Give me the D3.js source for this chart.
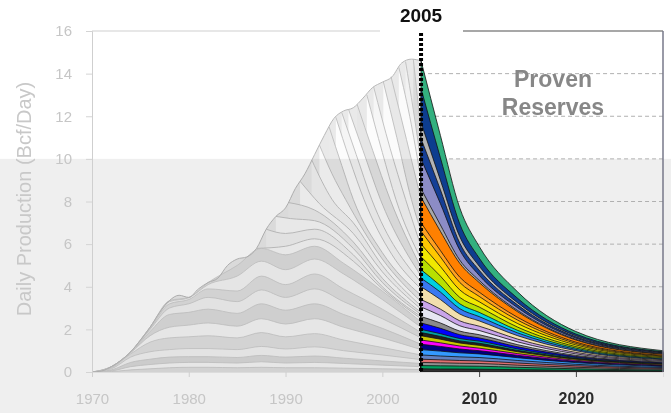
<!DOCTYPE html>
<html>
<head>
<meta charset="utf-8">
<script src="https://cdn.jsdelivr.net/npm/d3@7"></script>
<style>
  body { margin: 0; background: #fff; }
  svg { display: block; font-family: Arial, "Liberation Sans", sans-serif; }
</style>
</head>
<body>
<svg width="671" height="413"></svg>
<script>
const svg = d3.select("svg");
const width = +svg.attr("width");
const height = +svg.attr("height");

// ---- data ----
const histYears = [1970, 1971, 1972, 1973, 1974, 1975, 1976, 1977, 1978, 1979,
  1980, 1981, 1982, 1983, 1984, 1985, 1986, 1987, 1988, 1989,
  1990, 1991, 1992, 1993, 1994, 1995, 1996, 1997, 1998, 1999,
  2000, 2001, 2002, 2003, 2004];
const histTotal = [0, 0.05, 0.25, 0.55, 0.95, 1.5, 2.1, 2.8, 3.35, 3.6,
  3.5, 3.9, 4.2, 4.4, 5.0, 5.3, 5.4, 5.8, 6.7, 7.3,
  7.7, 8.6, 9.3, 10.2, 11.1, 11.9, 12.25, 12.4, 12.85, 13.35,
  13.6, 13.85, 14.5, 14.68, 14.6];

// old field groups (wavy bands), top to bottom
const waveYears = [1970, 1972, 1974, 1976, 1978, 1980, 1982, 1985, 1987.5, 1990, 1993, 1996, 2000, 2004];
const wave11 = [0, 0.25, 0.95, 2.1, 3.35, 3.5, 4.2, 5.0, 5.8, 5.5, 5.9, 5.1, 3.8, 2.35];
const wave10 = [0, 0.25, 0.95, 2.1, 3.3, 3.48, 4.1, 4.5, 5.2, 4.8, 5.3, 4.6, 3.4, 2.1];
const wave09 = [0, 0.25, 0.95, 2.05, 3.2, 3.4, 3.9, 3.8, 4.5, 4.1, 4.6, 3.9, 2.95, 1.85];
const wave08 = [0, 0.25, 0.94, 2.0, 3.0, 3.2, 3.5, 3.3, 3.85, 3.5, 3.9, 3.3, 2.5, 1.6];
const wave07 = [0, 0.24, 0.92, 1.9, 2.7, 2.8, 2.95, 2.75, 3.2, 2.9, 3.2, 2.7, 2.05, 1.3];
const wave06 = [0, 0.22, 0.9, 1.7, 2.1, 2.2, 2.3, 2.15, 2.5, 2.25, 2.5, 2.1, 1.6, 1.05];
const wave05 = [0, 0.2, 0.85, 1.4, 1.6, 1.65, 1.7, 1.6, 1.85, 1.65, 1.8, 1.5, 1.15, 0.8];
const wave04 = [0, 0.15, 0.7, 0.95, 1.05, 1.1, 1.1, 1.05, 1.2, 1.08, 1.18, 1.0, 0.8, 0.58];
const wave03 = [0, 0.1, 0.45, 0.6, 0.7, 0.72, 0.72, 0.68, 0.78, 0.7, 0.75, 0.65, 0.52, 0.4];
const wave02 = [0, 0.05, 0.25, 0.35, 0.42, 0.45, 0.45, 0.42, 0.48, 0.42, 0.45, 0.4, 0.32, 0.25];
const wave01 = [0, 0.02, 0.1, 0.15, 0.2, 0.22, 0.22, 0.2, 0.22, 0.2, 0.2, 0.18, 0.15, 0.12];
const waveFills = ["#dedede", "#f5f5f5", "#e0e0e0", "#f2f2f2", "#dddddd", "#f6f6f6",
  "#e2e2e2", "#f3f3f3", "#dadada", "#f6f6f6", "#e0e0e0"];

// newer vintages peeling off the total, newest first
const vintageLines = [
  [[2003.2, 14.68], [2003.6, 13.0], [2004, 11.2]],
  [[2002.4, 14.56], [2003.2, 12.3], [2004, 9.8]],
  [[2001.7, 14.3], [2003, 11.6], [2004, 9.0]],
  [[2000.9, 13.85], [2002.5, 10.9], [2004, 8.1]],
  [[2000.1, 13.62], [2001.5, 11.0], [2003, 8.1], [2004, 6.6]],
  [[1999.1, 13.38], [2000.8, 10.5], [2002.4, 8.1], [2004, 5.9]],
  [[1998.4, 13.0], [2000, 10.3], [2001.4, 8.1], [2004, 5.3]],
  [[1997.4, 12.55], [1999, 10.4], [2000.8, 8.1], [2004, 4.9]],
  [[1996.5, 12.33], [1998, 10.4], [1999.8, 8.1], [2004, 4.5]],
  [[1995.8, 12.18], [1997.3, 10.2], [1998.9, 8.1], [2004, 4.2]],
  [[1995.2, 11.95], [1996.6, 10.0], [1998.1, 8.1], [2001, 5.5], [2004, 3.9]],
  [[1994.5, 11.5], [1995.8, 9.7], [1997.0, 8.1], [2000, 5.6], [2004, 3.6]],
  [[1993.5, 10.65], [1994.8, 9.3], [1996.2, 8.1], [2000, 5.3], [2004, 3.3]],
  [[1992.7, 9.95], [1994.8, 8.1], [1997, 7.0], [2000, 5.0], [2004, 3.1]],
  [[1991.5, 8.95], [1993.5, 7.9], [1997, 6.5], [2000, 4.7], [2004, 2.95]],
  [[1990.3, 7.95], [1993, 7.6], [1997, 6.1], [2000, 4.4], [2004, 2.8]],
  [[1989, 7.3], [1990.5, 7.2], [1993, 7.1], [1997, 5.8], [2000, 4.2], [2004, 2.7]],
  [[1988, 6.7], [1990, 6.5], [1993, 6.7], [1997, 5.5], [2000, 4.0], [2004, 2.6]],
  [[1987, 5.8], [1990, 5.9], [1993, 6.25], [1997, 5.2], [2000, 3.9], [2004, 2.5]]
];
const vintageFills = ["#d9d9d9", "#f2f2f2", "#fbfbfb", "#e8e8e8", "#fbfbfb", "#f6f6f6",
  "#fcfcfc", "#e6e6e6", "#fbfbfb", "#f5f5f5", "#fcfcfc", "#eaeaea", "#fbfbfb",
  "#f4f4f4", "#fafafa", "#ececec", "#f8f8f8", "#f1f1f1", "#f7f7f7"];
const totalFill = "#e9e9e9";

// proven reserves: layer tops (top to bottom) at each year
const reserveYears = [2004, 2006, 2008, 2010, 2014, 2020, 2029];
const reserve2004 = [14.6, 13.3, 11.7, 10.95, 10.0, 8.6, 8.2, 7.0, 6.6, 6.0, 5.4, 4.8, 4.4, 4.0, 3.4, 3.05, 2.6, 2.3, 2.0, 1.85, 1.7, 1.5, 1.3, 1.05, 0.8, 0.6, 0.45, 0.3, 0.15, 0];
const reserve2006 = [11.1, 10.05, 9.0, 8.55, 7.9, 6.9, 6.6, 5.7, 5.4, 4.95, 4.5, 4.05, 3.75, 3.4, 2.95, 2.65, 2.3, 2.05, 1.8, 1.67, 1.54, 1.37, 1.2, 0.98, 0.75, 0.57, 0.43, 0.29, 0.14, 0];
const reserve2008 = [7.7, 6.95, 6.35, 6.05, 5.72, 5.25, 5.1, 4.45, 4.2, 3.85, 3.5, 3.2, 2.97, 2.72, 2.4, 2.17, 1.92, 1.75, 1.57, 1.46, 1.36, 1.22, 1.08, 0.9, 0.71, 0.54, 0.41, 0.28, 0.14, 0];
const reserve2010 = [5.9, 5.35, 4.97, 4.78, 4.54, 4.3, 4.2, 3.75, 3.55, 3.3, 3.05, 2.8, 2.6, 2.4, 2.15, 1.95, 1.75, 1.6, 1.45, 1.35, 1.25, 1.12, 1.0, 0.85, 0.68, 0.52, 0.4, 0.27, 0.13, 0];
const reserve2014 = [3.75, 3.45, 3.24, 3.14, 3.01, 2.88, 2.82, 2.56, 2.43, 2.27, 2.1, 1.95, 1.83, 1.7, 1.54, 1.41, 1.28, 1.18, 1.08, 1.01, 0.95, 0.86, 0.78, 0.67, 0.54, 0.42, 0.32, 0.22, 0.11, 0];
const reserve2020 = [1.9, 1.78, 1.7, 1.65, 1.59, 1.53, 1.5, 1.4, 1.34, 1.27, 1.19, 1.12, 1.06, 1.0, 0.92, 0.85, 0.78, 0.73, 0.68, 0.64, 0.6, 0.55, 0.5, 0.44, 0.36, 0.29, 0.22, 0.15, 0.08, 0];
const reserve2029 = [1.0, 0.95, 0.92, 0.9, 0.87, 0.84, 0.83, 0.78, 0.75, 0.72, 0.68, 0.64, 0.61, 0.58, 0.54, 0.5, 0.46, 0.43, 0.4, 0.38, 0.36, 0.33, 0.3, 0.26, 0.21, 0.17, 0.13, 0.09, 0.05, 0];
const reserveColors = ["#33b07f", "#0d3d8f", "#b4b4b4", "#153f96", "#8c8cc6", "#a8a8a8",
  "#ff8000", "#ffa020", "#ffc800", "#f0e800", "#b8e000", "#00d0e0", "#3a78f0",
  "#f2dfae", "#c9a4ea", "#e6e6f2", "#8a8a8a", "#0000ff", "#00a0a0", "#202020",
  "#c8c800", "#ff00ff", "#000080", "#3399ff", "#6080c0", "#e07070", "#909090",
  "#00a060", "#303030"];

const splitYear = 2004;
const yTicks = [0, 2, 4, 6, 8, 10, 12, 14, 16];
const xTicks = [1970, 1980, 1990, 2000, 2010, 2020];
const gridValues = [2, 4, 6, 8, 10, 12, 14];

// ---- scales ----
const x = d3.scaleLinear().domain([1970, 2029]).range([92, 663]);
const y = d3.scaleLinear().domain([0, 16]).range([372, 31]);

// grey lower background
svg.append("rect")
  .attr("x", 0).attr("y", y(10))
  .attr("width", width).attr("height", height - y(10))
  .attr("fill", "#efefef");

// dashed grid in the reserves part
svg.append("g").selectAll("line")
  .data(gridValues)
  .join("line")
  .attr("x1", x(splitYear)).attr("x2", x(2029))
  .attr("y1", d => y(d)).attr("y2", d => y(d))
  .attr("stroke", "#b0b0b0")
  .attr("stroke-dasharray", "4,3");

// ---- history (grey) ----
const hist = svg.append("g").style("mix-blend-mode", "multiply");
const area = d3.area()
  .x(d => x(d[0]))
  .y0(y(0))
  .y1(d => y(d[1]))
  .curve(d3.curveMonotoneX);
const line = d3.line()
  .x(d => x(d[0]))
  .y(d => y(d[1]))
  .curve(d3.curveMonotoneX);

const totalPts = histYears.map((yr, i) => [yr, histTotal[i]]);
hist.append("path").attr("d", area(totalPts)).attr("fill", totalFill);

vintageLines.forEach((pts, i) => {
  hist.append("path").attr("d", area(pts)).attr("fill", vintageFills[i]);
  hist.append("path").attr("d", line(pts))
    .attr("fill", "none").attr("stroke", "#bdbdbd").attr("stroke-width", 0.9);
});

const waves = [wave11, wave10, wave09, wave08, wave07, wave06, wave05, wave04, wave03, wave02, wave01];
waves.forEach((vals, i) => {
  const pts = waveYears.map((yr, j) => [yr, vals[j]]);
  hist.append("path").attr("d", area(pts)).attr("fill", waveFills[i]);
  hist.append("path").attr("d", line(pts))
    .attr("fill", "none").attr("stroke", "#c8c8c8").attr("stroke-width", 0.8);
});

hist.append("path").attr("d", line(totalPts))
  .attr("fill", "none").attr("stroke", "#b8b8b8").attr("stroke-width", 1);

// ---- proven reserves (colored) ----
const reserveRows = [reserve2004, reserve2006, reserve2008, reserve2010, reserve2014, reserve2020, reserve2029];
const res = svg.append("g");
reserveColors.forEach((color, i) => {
  const pts = reserveYears.map((yr, j) => [yr, reserveRows[j][i]]);
  res.append("path")
    .attr("d", area(pts))
    .attr("fill", color)
    .attr("stroke", "#111")
    .attr("stroke-width", 0.8);
});

// ---- axes ----
const yAxis = svg.append("g")
  .attr("transform", `translate(${x(1970)},0)`)
  .call(d3.axisLeft(y).tickValues(yTicks).tickSize(6).tickPadding(14));
yAxis.select(".domain").attr("stroke", "#cfcfcf");
yAxis.selectAll(".tick line").attr("stroke", "#d4d4d4");
yAxis.selectAll(".tick text")
  .attr("fill", "#c6c6c6")
  .attr("font-size", 15)
  .attr("font-family", "Arial, 'Liberation Sans', sans-serif");

const xAxis = svg.append("g")
  .attr("transform", `translate(0,${y(0)})`)
  .call(d3.axisBottom(x).tickValues(xTicks).tickFormat(d3.format("d")).tickSize(5).tickPadding(16));
xAxis.select(".domain").attr("stroke", "#dcdcdc");
xAxis.selectAll(".tick line").attr("stroke", d => d > splitYear ? "#444" : "#cfcfcf");
xAxis.selectAll(".tick text")
  .attr("fill", d => d > splitYear ? "#2a2a2a" : "#c6c6c6")
  .attr("font-weight", d => d > splitYear ? "bold" : "normal")
  .attr("font-size", d => d > splitYear ? 16 : 15)
  .attr("font-family", "Arial, 'Liberation Sans', sans-serif");

// frame: top and right
svg.append("line")
  .attr("x1", x(1970)).attr("x2", 380)
  .attr("y1", y(16)).attr("y2", y(16))
  .attr("stroke", "#cfcfcf");
svg.append("line")
  .attr("x1", 463).attr("x2", x(2029))
  .attr("y1", y(16)).attr("y2", y(16))
  .attr("stroke", "#8a8a8a").attr("stroke-width", 1.5);
svg.append("line")
  .attr("x1", x(2029)).attr("x2", x(2029))
  .attr("y1", y(16)).attr("y2", y(0))
  .attr("stroke", "#77798a").attr("stroke-width", 1.5);

// 2005 marker
svg.append("line")
  .attr("x1", x(splitYear)).attr("x2", x(splitYear))
  .attr("y1", 33).attr("y2", y(0))
  .attr("stroke", "#000")
  .attr("stroke-width", 4)
  .attr("stroke-dasharray", "3,2");
svg.append("text")
  .attr("x", x(splitYear)).attr("y", 22)
  .attr("text-anchor", "middle")
  .attr("font-size", 19).attr("font-weight", "bold")
  .attr("fill", "#111")
  .text("2005");

// labels
svg.append("text")
  .attr("transform", "translate(31,199) rotate(-90)")
  .attr("text-anchor", "middle")
  .attr("font-size", 20)
  .attr("fill", "#c8c8c8")
  .text("Daily Production (Bcf/Day)");

svg.append("text")
  .attr("x", 553).attr("y", 87)
  .attr("text-anchor", "middle")
  .attr("font-size", 23).attr("font-weight", "bold")
  .attr("fill", "#878787")
  .text("Proven");
svg.append("text")
  .attr("x", 553).attr("y", 115)
  .attr("text-anchor", "middle")
  .attr("font-size", 23).attr("font-weight", "bold")
  .attr("fill", "#878787")
  .text("Reserves");
</script>
</body>
</html>
